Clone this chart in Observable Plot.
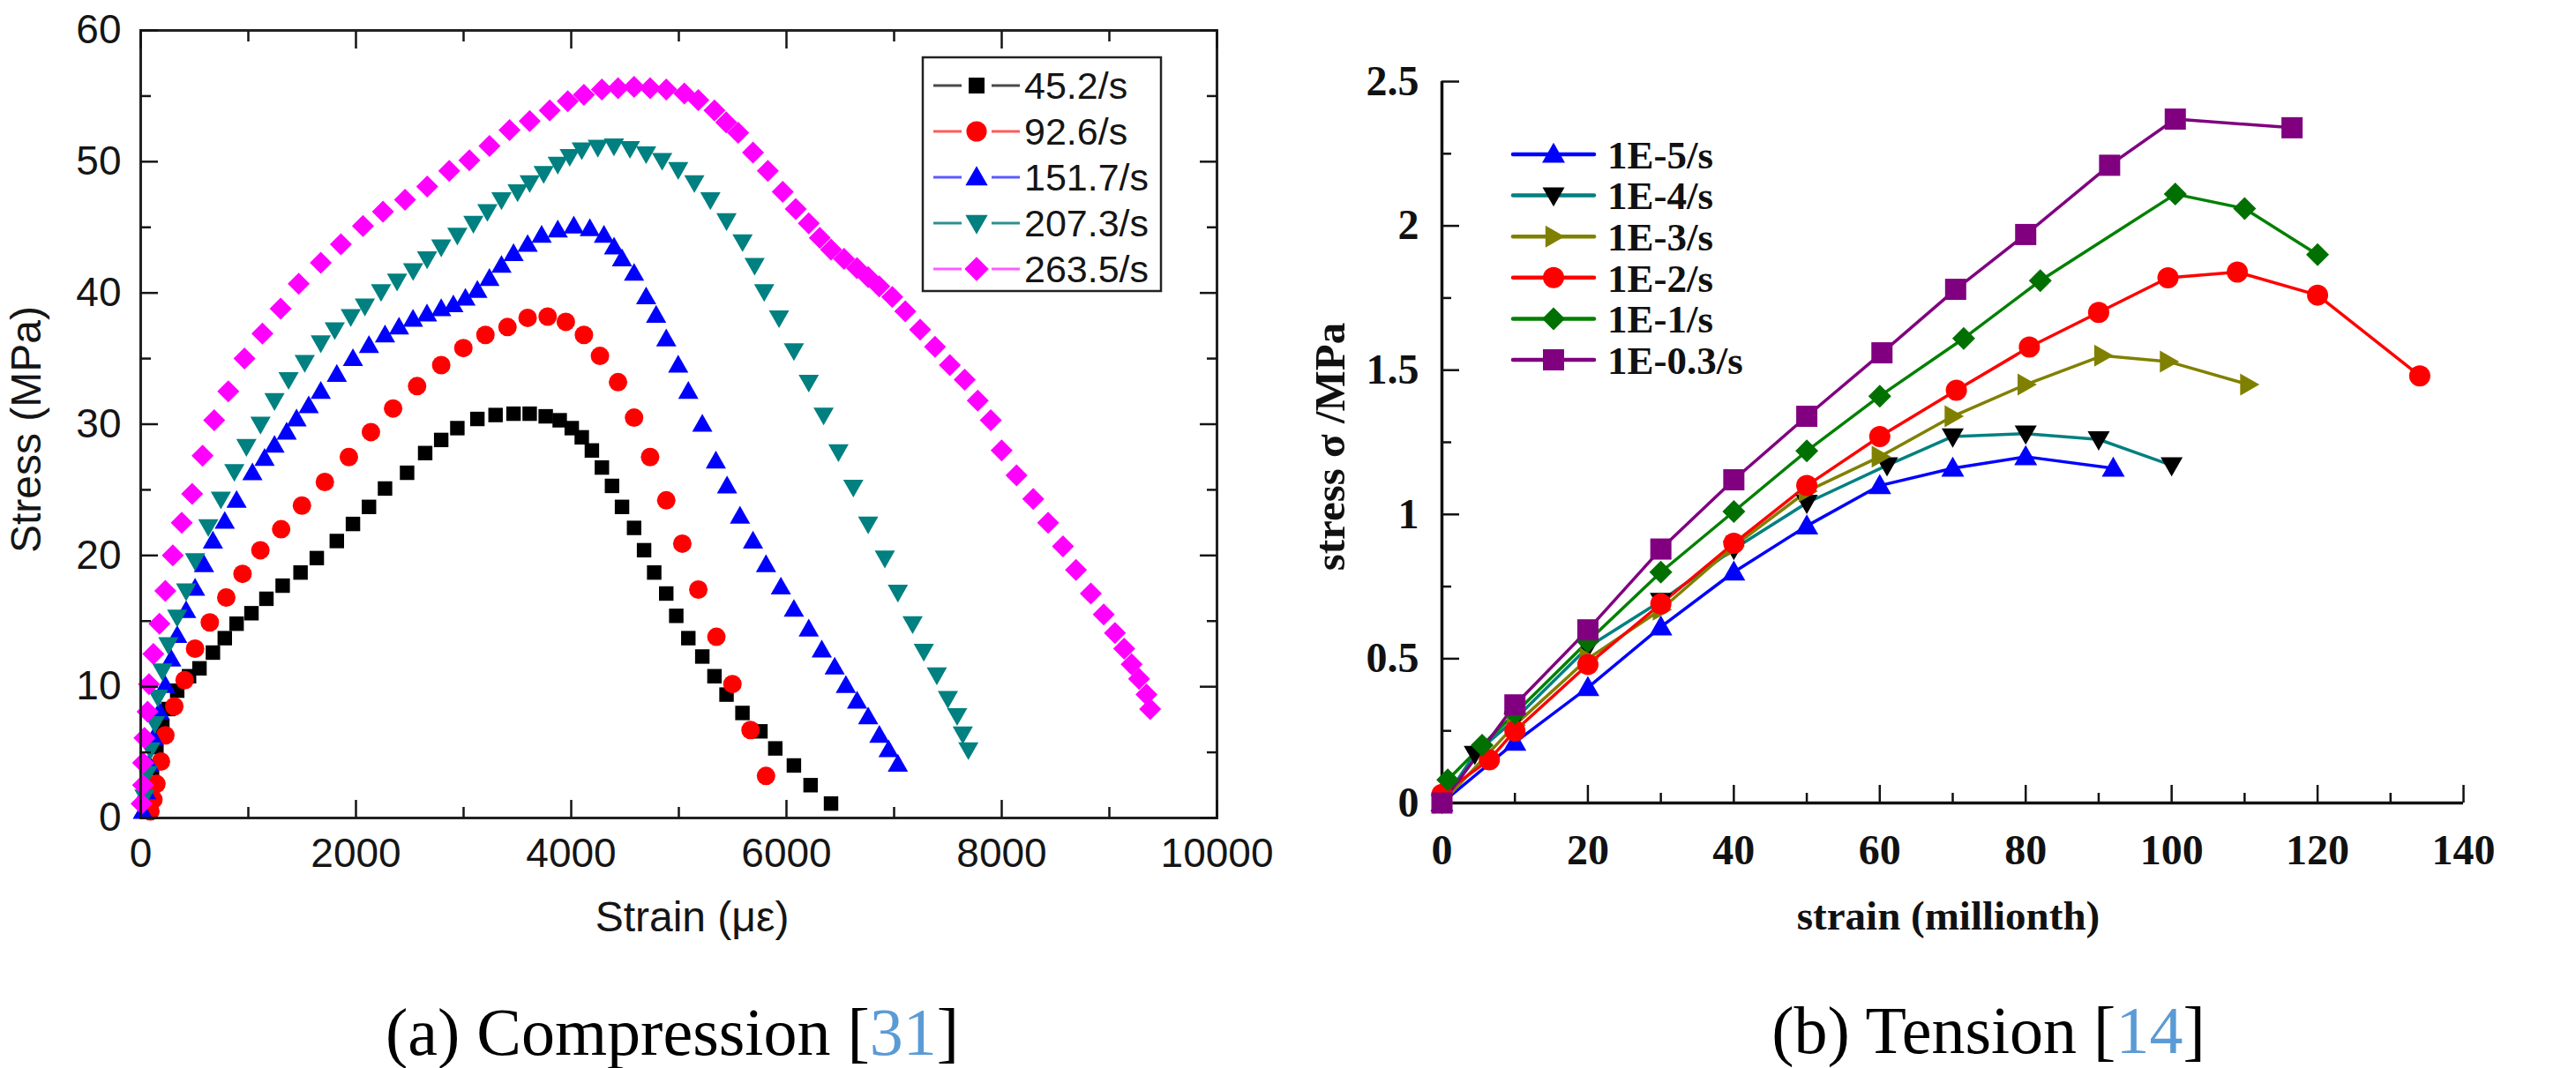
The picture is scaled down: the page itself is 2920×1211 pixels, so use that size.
<!DOCTYPE html>
<html>
<head>
<meta charset="utf-8">
<script src="https://cdn.jsdelivr.net/npm/d3@7"></script>
<script src="https://cdn.jsdelivr.net/npm/@observablehq/plot@0.6"></script>
<style>
  html, body { margin: 0; padding: 0; background: #fff; }
  #page { position: relative; width: 2920px; height: 1211px; background: #fff; }
  #left { position: absolute; left: 0; top: 0; }
  #right { position: absolute; left: 1460px; top: 0; }
  .cap { position: absolute; font-family: "Liberation Serif", "Times New Roman", serif; font-size: 76px;
         color: #000; white-space: nowrap; transform: translate(-50%, -50%); line-height: 1.3; padding: 0 4px; }
  .cap .ref { color: #5b9bd5; }
</style>
</head>
<body>
<div id="page">
  <div id="left"></div>
  <div id="right"></div>
  <div class="cap" style="left:762px; top:1170px;">(a) Compression [<span class="ref">31</span>]</div>
  <div class="cap" style="left:2254px; top:1168px;">(b) Tension [<span class="ref">14</span>]</div>
</div>
<script>
// ---------------- (a) Compression: strain (µε), stress (MPa) ----------------
const compNames = ["45.2/s", "92.6/s", "151.7/s", "207.3/s", "263.5/s"];

const comp452 = [[63,0.9],[91,2.3],[105,3.8],[146,5.4],[201,7.0],[257,8.3],[339,9.7],[449,10.8],[546,11.4],[671,12.6],[781,13.7],[891,14.8],[1029,15.6],[1168,16.7],[1319,17.7],[1485,18.7],[1636,19.8],[1822,21.1],[1972,22.4],[2121,23.7],[2270,25.1],[2475,26.3],[2643,27.8],[2792,28.8],[2942,29.7],[3128,30.4],[3297,30.7],[3464,30.8],[3614,30.8],[3763,30.6],[3893,30.3],[4005,29.7],[4098,29.0],[4192,28.0],[4285,26.7],[4379,25.3],[4472,23.7],[4584,22.1],[4677,20.4],[4771,18.7],[4883,17.1],[4976,15.4],[5088,13.7],[5218,12.3],[5331,10.8],[5443,9.4],[5591,8.0],[5758,6.6],[5896,5.3],[6069,4.0],[6224,2.5],[6414,1.1]];

const comp926 = [[90,0.5],[118,1.4],[146,2.6],[188,4.3],[229,6.3],[312,8.5],[408,10.5],[505,12.9],[642,14.9],[795,16.8],[946,18.6],[1112,20.4],[1305,22.0],[1498,23.8],[1711,25.6],[1934,27.5],[2139,29.4],[2345,31.2],[2568,32.9],[2792,34.5],[2998,35.8],[3203,36.8],[3408,37.4],[3595,38.1],[3781,38.2],[3950,37.8],[4118,36.8],[4267,35.2],[4435,33.2],[4584,30.5],[4733,27.5],[4883,24.2],[5032,20.9],[5181,17.4],[5349,13.8],[5498,10.2],[5666,6.7],[5810,3.2]];

const comp1517 = [[20,0.5],[49,2.0],[77,4.1],[118,6.1],[174,8.1],[229,10.1],[284,12.1],[339,13.9],[422,15.8],[505,17.5],[588,19.3],[671,21.1],[781,22.6],[891,24.2],[1038,26.3],[1151,27.4],[1243,28.4],[1356,29.4],[1448,30.4],[1561,31.4],[1673,32.5],[1822,33.8],[1972,35.0],[2121,36.0],[2270,36.8],[2400,37.4],[2530,38.0],[2660,38.4],[2792,38.8],[2905,39.1],[3017,39.6],[3128,40.2],[3240,41.1],[3352,42.1],[3464,43.0],[3595,43.7],[3725,44.4],[3875,44.8],[4024,45.1],[4173,44.9],[4304,44.4],[4398,43.5],[4472,42.6],[4584,41.5],[4696,39.7],[4789,38.3],[4883,36.5],[4994,34.5],[5088,32.5],[5218,30.0],[5344,27.2],[5448,25.3],[5568,23.0],[5689,21.1],[5810,19.3],[5948,17.6],[6069,15.9],[6207,14.4],[6328,12.8],[6448,11.5],[6552,10.1],[6656,8.9],[6759,7.7],[6863,6.3],[6949,5.2],[7035,4.1]];

const comp2073 = [[35,1.6],[64,3.4],[91,5.2],[132,7.2],[160,9.2],[201,11.2],[257,13.2],[339,15.3],[422,17.3],[505,19.6],[628,22.2],[745,24.3],[870,26.4],[982,28.3],[1113,30.0],[1243,31.8],[1374,33.4],[1524,34.7],[1673,36.2],[1803,37.2],[1952,38.2],[2083,39.0],[2233,40.1],[2382,40.9],[2531,41.7],[2661,42.6],[2792,43.5],[2942,44.4],[3091,45.3],[3221,46.2],[3352,47.1],[3502,47.7],[3614,48.4],[3744,49.1],[3875,49.8],[3986,50.4],[4098,50.9],[4247,51.1],[4397,51.2],[4546,51.0],[4696,50.6],[4845,50.1],[4994,49.4],[5144,48.4],[5293,47.1],[5443,45.5],[5592,43.9],[5704,42.1],[5793,40.1],[5931,38.1],[6069,35.6],[6207,33.2],[6345,30.7],[6483,27.9],[6621,25.2],[6759,22.4],[6914,19.8],[7035,17.2],[7172,14.8],[7276,12.7],[7397,10.9],[7500,9.1],[7586,7.8],[7638,6.4],[7690,5.2]];

const comp2635 = [[8,1.1],[22,2.5],[22,4.2],[35,6.1],[64,8.1],[77,10.2],[118,12.5],[174,14.8],[229,17.3],[298,20.0],[381,22.5],[478,24.7],[575,27.6],[683,30.3],[814,32.5],[964,35.0],[1131,36.9],[1300,38.8],[1468,40.7],[1673,42.3],[1860,43.7],[2065,45.1],[2251,46.2],[2456,47.1],[2662,48.1],[2867,49.3],[3054,50.1],[3241,51.2],[3427,52.4],[3614,53.1],[3800,53.9],[3968,54.6],[4118,55.1],[4285,55.5],[4435,55.6],[4584,55.7],[4733,55.6],[4883,55.5],[5051,55.2],[5181,54.7],[5331,53.9],[5440,53.0],[5551,52.2],[5689,50.7],[5827,49.3],[5965,47.7],[6086,46.4],[6207,45.3],[6310,44.2],[6414,43.3],[6535,42.6],[6655,41.9],[6759,41.2],[6862,40.5],[6983,39.7],[7104,38.6],[7242,37.2],[7380,35.9],[7518,34.5],[7656,33.4],[7777,31.8],[7898,30.3],[7999,28.0],[8138,26.1],[8293,24.3],[8431,22.5],[8569,20.7],[8690,18.9],[8828,17.1],[8948,15.5],[9052,14.1],[9138,12.9],[9207,11.7],[9276,10.6],[9345,9.4],[9379,8.3]];

const compXTicks = [0, 2000, 4000, 6000, 8000, 10000];
const compXMinor = [1000, 3000, 5000, 7000, 9000];
const compYTicks = [0, 10, 20, 30, 40, 50, 60];
const compYMinor = [5, 15, 25, 35, 45, 55];

// ---------------- (b) Tension: strain (millionth), stress σ (MPa) ----------------
const tensNames = ["1E-5/s", "1E-4/s", "1E-3/s", "1E-2/s", "1E-1/s", "1E-0.3/s"];

const tens1e5  = [[0,0],[10,0.21],[20,0.40],[30,0.61],[40,0.80],[50,0.96],[60,1.10],[70,1.16],[80,1.20],[92,1.16]];
const tens1e4  = [[0,0],[4.5,0.17],[10,0.29],[20,0.54],[30,0.70],[40,0.88],[50,1.04],[61,1.17],[70,1.27],[80,1.28],[90,1.26],[100,1.17]];
const tens1e3  = [[0,0],[10,0.27],[20,0.50],[30,0.67],[40,0.89],[50,1.08],[60,1.20],[70,1.34],[80,1.45],[90.5,1.55],[99.5,1.53],[110.5,1.45]];
const tens1e2  = [[0,0.03],[6.5,0.15],[10,0.25],[20,0.48],[30,0.69],[40,0.90],[50,1.10],[60,1.27],[70.5,1.43],[80.5,1.58],[90,1.70],[99.5,1.82],[109,1.84],[120,1.76],[134,1.48]];
const tens1e1  = [[0.8,0.08],[5.5,0.20],[10,0.31],[20,0.56],[30,0.80],[40,1.01],[50,1.22],[60,1.41],[71.5,1.61],[82,1.81],[100.5,2.11],[110,2.06],[120,1.90]];
const tens1e03 = [[0,0],[10,0.34],[20,0.60],[30,0.88],[40,1.12],[50,1.34],[60.3,1.56],[70.4,1.78],[80,1.97],[91.5,2.21],[100.5,2.37],[116.5,2.34]];

const tensXTicks = [0, 20, 40, 60, 80, 100, 120, 140];
const tensXMinor = [10, 30, 50, 70, 90, 110, 130];
const tensYTicks = [0, 0.5, 1, 1.5, 2, 2.5];
const tensYMinor = [0.25, 0.75, 1.25, 1.75, 2.25];

// ---------------- styles (kept apart from data) ----------------
const compData = [comp452, comp926, comp1517, comp2073, comp2635];
const compColors = ["#000000", "#ff0000", "#0000ff", "#008080", "#ff00ff"];
const compLegendLine = ["#4a4a4a", "#ff5a5a", "#5a5aff", "#2e9090", "#ff5aff"];
const compShapes = ["square", "circle", "up", "down", "diamond"];
const compR = [8.2, 10.5, 11.5, 11.5, 12.5];

const tensData = [tens1e5, tens1e4, tens1e3, tens1e2, tens1e1, tens1e03];
const tensLine = ["#0000ff", "#008080", "#808000", "#ff0000", "#008000", "#800080"];
const tensMarker = ["#0000ff", "#000000", "#808000", "#ff0000", "#007000", "#800080"];
const tensShapes = ["up", "down", "right", "circle", "diamond", "square"];
const tensR = [13, 12.5, 12.5, 12, 13, 12];

function makeSymbol(kind) {
  return {
    draw(ctx, size) {
      const r = Math.sqrt(size / Math.PI);
      const h = r * 1.75;
      if (kind === "square") { ctx.rect(-r, -r, 2 * r, 2 * r); }
      else if (kind === "circle") { ctx.moveTo(r, 0); ctx.arc(0, 0, r, 0, 2 * Math.PI); }
      else if (kind === "diamond") { ctx.moveTo(0, -r); ctx.lineTo(r, 0); ctx.lineTo(0, r); ctx.lineTo(-r, 0); ctx.closePath(); }
      else if (kind === "up") { ctx.moveTo(0, -h * 0.58); ctx.lineTo(r, h * 0.42); ctx.lineTo(-r, h * 0.42); ctx.closePath(); }
      else if (kind === "down") { ctx.moveTo(0, h * 0.58); ctx.lineTo(r, -h * 0.42); ctx.lineTo(-r, -h * 0.42); ctx.closePath(); }
      else if (kind === "right") { ctx.moveTo(h * 0.58, 0); ctx.lineTo(-h * 0.42, r); ctx.lineTo(-h * 0.42, -r); ctx.closePath(); }
    }
  };
}

const sansFont = "'Liberation Sans', Arial, Helvetica, sans-serif";
const serifFont = "'Liberation Serif', 'Times New Roman', serif";
const fmt = d => String(d);
const blank = () => "";

// ---------------- left chart ----------------
const L = { marginLeft: 159, marginRight: 81, marginTop: 34, marginBottom: 173, width: 1460, height: 1100 };
const leftSvg = Plot.plot({
  ...L,
  style: { fontFamily: sansFont, color: "#151515", background: "none", overflow: "visible" },
  x: { domain: [0, 10000] },
  y: { domain: [0, 60] },
  marks: [
    ...compData.map((data, i) => Plot.dot(data, {
      x: d => d[0], y: d => d[1], fill: compColors[i], r: compR[i], symbol: makeSymbol(compShapes[i])
    })),
    Plot.frame({ stroke: "#222", strokeWidth: 3 }),
    Plot.axisX(compXTicks, { anchor: "bottom", tickSize: -20, tickPadding: 43, strokeWidth: 2.5, fontSize: 46, tickFormat: fmt, label: null }),
    Plot.axisX(compXMinor, { anchor: "bottom", tickSize: -12, strokeWidth: 2.5, tickFormat: blank, label: null }),
    Plot.axisX(compXTicks, { anchor: "top", tickSize: -20, strokeWidth: 2.5, tickFormat: blank, label: null }),
    Plot.axisX(compXMinor, { anchor: "top", tickSize: -12, strokeWidth: 2.5, tickFormat: blank, label: null }),
    Plot.axisY(compYTicks, { anchor: "left", tickSize: -20, tickPadding: 42, strokeWidth: 2.5, fontSize: 46, tickFormat: fmt, label: null }),
    Plot.axisY(compYMinor, { anchor: "left", tickSize: -12, strokeWidth: 2.5, tickFormat: blank, label: null }),
    Plot.axisY(compYTicks, { anchor: "right", tickSize: -20, strokeWidth: 2.5, tickFormat: blank, label: null }),
    Plot.axisY(compYMinor, { anchor: "right", tickSize: -12, strokeWidth: 2.5, tickFormat: blank, label: null }),
    Plot.text(["Strain (με)"], { text: d => d, frameAnchor: "bottom", dx: 15, dy: 113, fontSize: 48, textAnchor: "middle", lineAnchor: "middle" }),
    Plot.text(["Stress (MPa)"], { text: d => d, frameAnchor: "left", dx: -129, dy: 6, rotate: -90, fontSize: 48, textAnchor: "middle", lineAnchor: "middle" })
  ]
});
document.getElementById("left").appendChild(leftSvg);

// ---------------- right chart ----------------
const R = { marginLeft: 174, marginRight: 128, marginTop: 92, marginBottom: 190, width: 1460, height: 1100 };
const rightSvg = Plot.plot({
  ...R,
  style: { fontFamily: serifFont, color: "#111", background: "none", overflow: "visible" },
  x: { domain: [0, 140] },
  y: { domain: [0, 2.5] },
  marks: [
    Plot.ruleY([0], { stroke: "#111", strokeWidth: 3.5 }),
    Plot.ruleX([0], { stroke: "#111", strokeWidth: 3.5 }),
    Plot.axisX(tensXTicks, { anchor: "bottom", tickSize: -20, tickPadding: 55, strokeWidth: 2.5, fontSize: 48, fontWeight: "bold", tickFormat: fmt, label: null }),
    Plot.axisX(tensXMinor, { anchor: "bottom", tickSize: -11, strokeWidth: 2.5, tickFormat: blank, label: null }),
    Plot.axisY(tensYTicks, { anchor: "left", tickSize: -20, tickPadding: 46, strokeWidth: 2.5, fontSize: 48, fontWeight: "bold", tickFormat: fmt, label: null }),
    Plot.axisY(tensYMinor, { anchor: "left", tickSize: -11, strokeWidth: 2.5, tickFormat: blank, label: null }),
    ...tensData.map((data, i) => Plot.line(data, { x: d => d[0], y: d => d[1], stroke: tensLine[i], strokeWidth: 3.5 })),
    ...tensData.map((data, i) => Plot.dot(data, {
      x: d => d[0], y: d => d[1], fill: tensMarker[i], r: tensR[i], symbol: makeSymbol(tensShapes[i])
    })),
    Plot.text(["strain (millionth)"], { text: d => d, frameAnchor: "bottom", dx: -5, dy: 128, fontSize: 47, fontWeight: "bold", textAnchor: "middle", lineAnchor: "middle" }),
    Plot.text(["stress σ /MPa"], { text: d => d, frameAnchor: "left", dx: -126, dy: 5, rotate: -90, fontSize: 49, fontWeight: "bold", textAnchor: "middle", lineAnchor: "middle" })
  ]
});
document.getElementById("right").appendChild(rightSvg);

// ---------------- legends (drawn from the same series lists) ----------------
function symbolPath(kind, r) {
  return d3.symbol().type(makeSymbol(kind)).size(Math.PI * r * r)();
}

// left legend: framed box, line–marker–line samples
(function () {
  const g = d3.select(leftSvg).append("g").attr("class", "legend").attr("text-anchor", "start");
  const box = { x: 1046, y: 65, w: 270, h: 265 };
  g.append("rect").attr("x", box.x).attr("y", box.y).attr("width", box.w).attr("height", box.h)
    .attr("fill", "#fff").attr("stroke", "#222").attr("stroke-width", 2.5);
  compNames.forEach((name, i) => {
    const cy = 97 + i * 52;
    const row = g.append("g");
    row.append("line").attr("x1", 1058).attr("x2", 1090).attr("y1", cy).attr("y2", cy)
      .attr("stroke", compLegendLine[i]).attr("stroke-width", 3);
    row.append("line").attr("x1", 1124).attr("x2", 1156).attr("y1", cy).attr("y2", cy)
      .attr("stroke", compLegendLine[i]).attr("stroke-width", 3);
    row.append("path").attr("d", symbolPath(compShapes[i], compR[i] * 1.1))
      .attr("transform", `translate(1107,${cy})`).attr("fill", compColors[i]);
    row.append("text").attr("x", 1161).attr("y", cy).attr("dy", "0.36em").attr("text-anchor", "start")
      .attr("font-family", sansFont).attr("font-size", 43).attr("fill", "#151515").text(name);
  });
})();

// right legend: unframed, line with marker
(function () {
  const g = d3.select(rightSvg).append("g").attr("class", "legend").attr("text-anchor", "start");
  tensNames.forEach((name, i) => {
    const cy = 175 + i * 46.6;
    const row = g.append("g");
    row.append("line").attr("x1", 255).attr("x2", 347).attr("y1", cy).attr("y2", cy)
      .attr("stroke", tensLine[i]).attr("stroke-width", 4.5).attr("stroke-linecap", "round");
    row.append("path").attr("d", symbolPath(tensShapes[i], tensR[i]))
      .attr("transform", `translate(301,${cy})`).attr("fill", tensMarker[i]);
    row.append("text").attr("x", 362).attr("y", cy).attr("dy", "0.35em").attr("text-anchor", "start")
      .attr("font-family", serifFont).attr("font-weight", "bold").attr("font-size", 45)
      .attr("fill", "#111").text(name);
  });
})();
</script>
</body>
</html>
